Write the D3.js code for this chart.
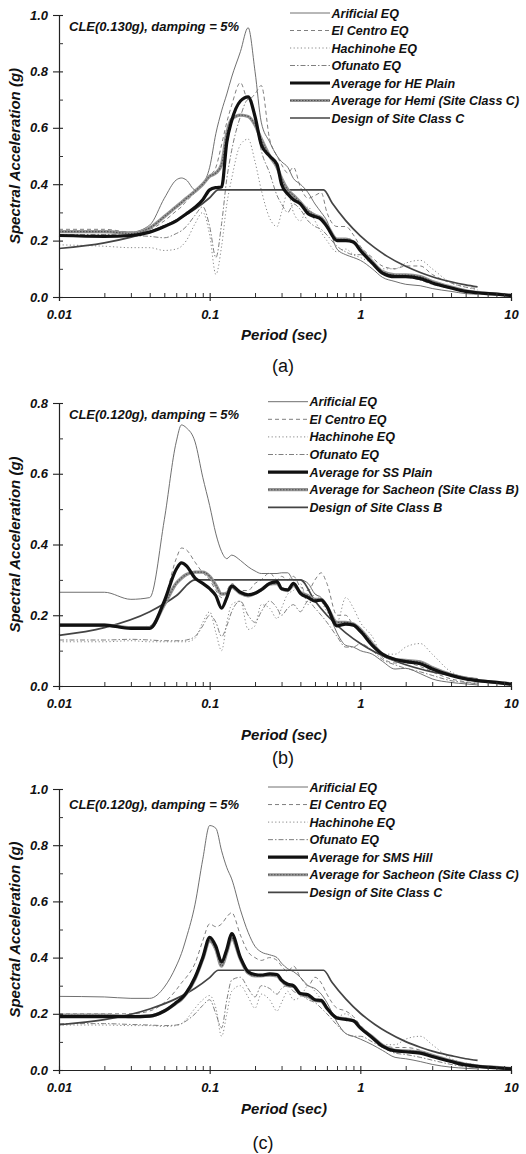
<!DOCTYPE html>
<html><head><meta charset="utf-8">
<script src="https://cdn.jsdelivr.net/npm/d3@7"></script>
<style>body{margin:0;background:#fff}</style>
</head><body><svg id="chart" width="526" height="1154"></svg>
<script>
// ---------- DATA ----------
const periods = [0.01,0.02,0.03,0.04,0.05,0.06,0.065,0.07,0.08,0.09,
  0.1,0.11,0.12,0.13,0.14,0.16,0.18,0.2,0.22,0.25,
  0.28,0.3,0.33,0.36,0.4,0.45,0.5,0.55,0.6,0.7,
  0.8,0.9,1.0,1.2,1.4,1.7,2.0,2.5,3.0,4.0,
  5.0,6.0,8.0,10.0];
const xTickValues = [0.01,0.1,1,10];
const xTickLabels = ["0.01","0.1","1","10"];

// Panel (a)
const artA = [0.235,0.235,0.230,0.255,0.350,0.415,0.422,0.415,0.380,0.400, 0.460,0.580,0.660,0.720,0.780,0.870,0.955,0.800,0.620,0.550, 0.500,0.480,0.460,0.420,0.400,0.370,0.330,0.300,0.270,0.170, 0.150,0.140,0.130,0.100,0.070,0.055,0.045,0.040,0.030,0.020, 0.012,0.010,null,null];
const elA = [0.240,0.240,0.230,0.240,0.270,0.305,0.320,0.340,0.370,0.400, 0.430,0.460,0.540,0.620,0.680,0.760,0.700,0.720,0.750,0.560, 0.500,0.470,0.440,0.460,0.390,0.350,0.360,0.370,0.300,0.250, 0.250,0.220,0.180,0.140,0.110,0.100,0.110,0.110,0.080,0.050, 0.035,0.030,null,null];
const hachA = [0.185,0.180,0.175,0.175,0.165,0.170,0.180,0.200,0.260,0.300, 0.220,0.080,0.180,0.330,0.420,0.540,0.560,0.480,0.380,0.280, 0.250,0.300,0.370,0.300,0.270,0.320,0.270,0.230,0.200,0.160, 0.170,0.150,0.140,0.120,0.100,0.100,0.120,0.130,0.100,0.050, 0.035,0.025,null,null];
const ofuA = [0.220,0.222,0.218,0.215,0.210,0.225,0.235,0.250,0.290,0.320, 0.250,0.140,0.260,0.420,0.520,0.640,0.700,0.640,0.520,0.440, 0.360,0.330,0.300,0.330,0.310,0.270,0.250,0.240,0.220,0.180, 0.160,0.150,0.150,0.120,0.090,0.070,0.070,0.060,0.045,0.030, 0.020,0.015,null,null];
const avgA = [0.218,0.215,0.218,0.230,0.250,0.270,0.283,0.295,0.318,0.345, 0.380,0.388,0.390,0.550,0.625,0.695,0.710,0.640,0.540,0.500, 0.470,0.400,0.365,0.345,0.330,0.295,0.285,0.275,0.250,0.200, 0.200,0.195,0.165,0.120,0.085,0.072,0.072,0.065,0.050,0.032, 0.020,0.015,0.010,0.005];
const siteA = [0.232,0.232,0.225,0.245,0.285,0.320,0.335,0.350,0.375,0.400, 0.428,0.440,0.470,0.580,0.630,0.645,0.640,0.610,0.560,0.500, 0.460,0.420,0.380,0.360,0.335,0.305,0.290,0.280,0.255,0.205, 0.205,0.195,0.170,0.125,0.090,0.078,0.078,0.072,0.055,0.035, 0.022,0.016,0.010,0.006];
const designA_T = [0.01,0.02,0.04,0.06,0.08,0.1,0.114,0.57,0.65,0.8,1.0,1.25,1.5,2.0,2.5,3.0,4.0,5.0,6.0];
const designA = [0.172,0.192,0.232,0.272,0.312,0.352,0.380,0.380,0.333,0.271,0.217,0.174,0.145,0.109,0.087,0.072,0.054,0.043,0.036];

// Panel (b)
const artB = [0.265,0.265,0.245,0.250,0.470,0.690,0.738,0.730,0.690,0.590, 0.510,0.430,0.380,0.360,0.370,0.355,0.337,0.325,0.318,0.318, 0.318,0.320,0.320,0.300,0.300,0.290,0.260,0.250,0.220,0.150, 0.115,0.110,0.100,0.090,0.070,0.048,0.050,0.035,0.020,0.010, 0.006,0.003,null,null];
const elB = [0.170,0.172,0.165,0.170,0.240,0.360,0.390,0.385,0.350,0.320, 0.300,0.270,0.250,0.270,0.290,0.270,0.270,0.290,0.300,0.320, 0.300,0.310,0.300,0.310,0.280,0.270,0.300,0.320,0.290,0.200, 0.200,0.170,0.150,0.120,0.080,0.065,0.065,0.055,0.040,0.020, 0.012,0.008,null,null];
const hachB = [0.125,0.125,0.128,0.125,0.125,0.125,0.125,0.125,0.135,0.180, 0.210,0.150,0.100,0.180,0.230,0.240,0.160,0.170,0.230,0.220, 0.190,0.220,0.260,0.270,0.290,0.230,0.260,0.240,0.210,0.180, 0.250,0.220,0.180,0.140,0.090,0.090,0.110,0.120,0.090,0.040, 0.025,0.018,null,null];
const ofuB = [0.130,0.130,0.132,0.130,0.128,0.128,0.128,0.130,0.140,0.170, 0.200,0.180,0.140,0.170,0.210,0.240,0.200,0.180,0.210,0.240, 0.220,0.200,0.220,0.230,0.210,0.240,0.220,0.200,0.180,0.140, 0.110,0.110,0.120,0.100,0.075,0.060,0.050,0.040,0.030,0.015, 0.010,0.006,null,null];
const avgB = [0.172,0.172,0.163,0.163,0.240,0.330,0.348,0.340,0.305,0.290, 0.275,0.255,0.220,0.250,0.283,0.265,0.258,0.262,0.272,0.290, 0.295,0.275,0.272,0.290,0.262,0.250,0.240,0.243,0.225,0.170, 0.175,0.172,0.155,0.115,0.090,0.075,0.069,0.063,0.048,0.030, 0.020,0.015,0.010,0.005];
const siteB = [0.172,0.172,0.165,0.165,0.230,0.290,0.305,0.315,0.322,0.322, 0.310,0.285,0.260,0.262,0.280,0.262,0.255,0.262,0.272,0.288, 0.290,0.275,0.270,0.285,0.265,0.255,0.245,0.245,0.225,0.180, 0.180,0.175,0.160,0.120,0.090,0.075,0.072,0.068,0.052,0.032, 0.022,0.016,0.010,0.006];
const designB_T = [0.01,0.02,0.04,0.06,0.08,0.4,0.5,0.6,0.8,1.0,1.25,1.5,2.0,2.5,3.0,4.0,5.0,6.0];
const designB = [0.143,0.165,0.210,0.255,0.300,0.300,0.240,0.200,0.150,0.120,0.096,0.080,0.060,0.048,0.040,0.030,0.024,0.020];

// Panel (c)
const artC = [0.262,0.260,0.255,0.255,0.295,0.370,0.415,0.470,0.590,0.750, 0.870,0.860,0.780,0.720,0.680,0.570,0.490,0.440,0.420,0.410, 0.400,0.380,0.360,0.350,0.330,0.300,0.290,0.270,0.240,0.170, 0.130,0.120,0.110,0.090,0.070,0.045,0.040,0.030,0.020,0.010, 0.006,0.004,null,null];
const elC = [0.200,0.200,0.200,0.210,0.240,0.285,0.310,0.330,0.380,0.460, 0.520,0.510,0.520,0.545,0.560,0.480,0.420,0.400,0.390,0.400, 0.390,0.370,0.350,0.370,0.330,0.300,0.330,0.310,0.270,0.220, 0.210,0.190,0.160,0.120,0.090,0.080,0.080,0.070,0.050,0.030, 0.018,0.012,null,null];
const hachC = [0.160,0.160,0.158,0.158,0.155,0.158,0.165,0.180,0.220,0.250, 0.265,0.220,0.120,0.200,0.280,0.300,0.260,0.220,0.270,0.250, 0.210,0.240,0.280,0.250,0.260,0.300,0.280,0.250,0.220,0.190, 0.200,0.180,0.150,0.120,0.090,0.090,0.110,0.120,0.090,0.040, 0.025,0.018,null,null];
const ofuC = [0.165,0.165,0.162,0.160,0.158,0.160,0.165,0.175,0.200,0.230, 0.250,0.200,0.150,0.250,0.320,0.330,0.290,0.260,0.300,0.290, 0.270,0.290,0.300,0.280,0.270,0.250,0.240,0.220,0.200,0.160, 0.130,0.120,0.120,0.100,0.080,0.060,0.055,0.045,0.035,0.020, 0.012,0.008,null,null];
const avgC = [0.190,0.190,0.190,0.192,0.210,0.240,0.255,0.275,0.330,0.400, 0.472,0.440,0.385,0.430,0.485,0.400,0.350,0.340,0.338,0.342, 0.340,0.320,0.305,0.300,0.272,0.268,0.250,0.248,0.220,0.185, 0.180,0.175,0.150,0.115,0.085,0.068,0.065,0.060,0.048,0.030, 0.018,0.013,0.008,0.004];
const siteC = [0.195,0.195,0.190,0.192,0.210,0.238,0.252,0.272,0.325,0.395, 0.460,0.430,0.370,0.420,0.470,0.395,0.345,0.335,0.335,0.338, 0.335,0.318,0.300,0.298,0.270,0.262,0.248,0.245,0.220,0.185, 0.182,0.175,0.150,0.118,0.088,0.070,0.068,0.064,0.052,0.032, 0.020,0.014,0.009,0.005];
const designC_T = [0.01,0.02,0.04,0.06,0.08,0.1,0.114,0.57,0.65,0.8,1.0,1.25,1.5,2.0,2.5,3.0,4.0,5.0,6.0];
const designC = [0.161,0.179,0.217,0.254,0.291,0.329,0.355,0.355,0.311,0.253,0.202,0.162,0.135,0.101,0.081,0.067,0.051,0.040,0.034];

const eqNames = ["Arificial EQ","El Centro EQ","Hachinohe EQ","Ofunato EQ"];
const namesA = ["Average for HE Plain","Average for Hemi (Site Class C)","Design of Site Class C"];
const namesB = ["Average for SS Plain","Average for Sacheon (Site Class B)","Design of Site Class B"];
const namesC = ["Average for SMS Hill","Average for Sacheon (Site Class C)","Design of Site Class C"];
const notes = ["CLE(0.130g), damping = 5%","CLE(0.120g), damping = 5%","CLE(0.120g), damping = 5%"];
const letters = ["(a)","(b)","(c)"];
const yMaxes = [1.0, 0.8, 1.0];

// ---------- LAYOUT ----------
const FONT = "'Liberation Sans', Arial, Helvetica, sans-serif";
const layout = [
  {top:15, bot:297, legX:290, legY0:13, legDy:17.5, noteY:31, periodY:340, letterX:283, letterY:372},
  {top:403, bot:686, legX:268, legY0:401.7, legDy:17.6, noteY:419, periodY:740, letterX:283, letterY:764},
  {top:789, bot:1070, legX:268, legY0:787, legDy:17.55, noteY:809, periodY:1114, letterX:263, letterY:1149}
];
const panelData = [
  {eq:[artA,elA,hachA,ofuA], avg:avgA, site:siteA, dT:designA_T, d:designA, names:namesA},
  {eq:[artB,elB,hachB,ofuB], avg:avgB, site:siteB, dT:designB_T, d:designB, names:namesB},
  {eq:[artC,elC,hachC,ofuC], avg:avgC, site:siteC, dT:designC_T, d:designC, names:namesC}
];

const eqStyles = [
  {stroke:'#606060', w:0.9, dash:null},
  {stroke:'#707070', w:0.9, dash:'4,3'},
  {stroke:'#888888', w:1.0, dash:'1.2,2.4'},
  {stroke:'#707070', w:0.9, dash:'5,2,1.5,2'}
];
const SITE_BASE = '#959595', SITE_TEX = '#505050', DESIGN = '#444444';

const svg = d3.select('#chart');
const x = d3.scaleLog().domain([0.01,10]).range([59,511]);

layout.forEach((L, i) => {
  const P = panelData[i];
  const yMax = yMaxes[i];
  const y = d3.scaleLinear().domain([0, yMax]).range([L.bot, L.top]);
  const g = svg.append('g');

  const line = d3.line().defined(d => d[1] != null)
    .x(d => x(d[0])).y(d => y(d[1])).curve(d3.curveMonotoneX);
  const zip = (ts, vs) => ts.map((t,k)=>[t, vs[k]]);

  P.eq.forEach((vals, k) => {
    const s = eqStyles[k];
    g.append('path').attr('d', line(zip(periods, vals)))
      .attr('fill','none').attr('stroke', s.stroke).attr('stroke-width', s.w)
      .attr('stroke-dasharray', s.dash);
  });
  g.append('path').attr('d', line(zip(P.dT, P.d)))
    .attr('fill','none').attr('stroke',DESIGN).attr('stroke-width',1.7);
  g.append('path').attr('d', line(zip(periods, P.site)))
    .attr('fill','none').attr('stroke',SITE_BASE).attr('stroke-width',3.4);
  g.append('path').attr('d', line(zip(periods, P.site)))
    .attr('fill','none').attr('stroke',SITE_TEX).attr('stroke-width',1.1).attr('stroke-dasharray','1.5,1.5');
  g.append('path').attr('d', line(zip(periods, P.avg)))
    .attr('fill','none').attr('stroke','#111').attr('stroke-width',3.2);

  const yMajor = d3.range(0, yMax + 0.001, 0.2);
  const yMinor = d3.range(0.1, yMax, 0.2);
  const ya = g.append('g').attr('transform','translate(59,0)')
    .call(d3.axisLeft(y).tickValues(yMajor).tickFormat(d3.format('.1f')).tickSize(6).tickPadding(5));
  ya.select('.domain').attr('stroke','#222').attr('stroke-width',1.2);
  ya.selectAll('.tick line').attr('x1',4).attr('stroke','#222').attr('stroke-width',1.1);
  ya.selectAll('.tick text').attr('font-family',FONT).attr('font-size',13)
    .attr('font-weight','bold').attr('font-style','italic').attr('fill','#111');
  const ym = g.append('g').attr('transform','translate(59,0)')
    .call(d3.axisRight(y).tickValues(yMinor).tickSize(4).tickFormat(''));
  ym.select('.domain').remove();
  ym.selectAll('.tick line').attr('stroke','#333').attr('stroke-width',1);

  const xMinor = [];
  [0.01,0.1,1].forEach(dd => { for (let m=2;m<=9;m++) xMinor.push(dd*m); });
  const xa = g.append('g').attr('transform',`translate(0,${L.bot})`)
    .call(d3.axisBottom(x).tickValues(xTickValues).tickFormat((d,k)=>xTickLabels[k]).tickSize(4).tickPadding(9));
  xa.select('.domain').attr('stroke','#222').attr('stroke-width',1.2);
  xa.selectAll('.tick line').attr('y1',-4).attr('stroke','#222').attr('stroke-width',1.1);
  xa.selectAll('.tick text').attr('font-family',FONT).attr('font-size',13)
    .attr('font-weight','bold').attr('font-style','italic').attr('fill','#111');
  const xm = g.append('g').attr('transform',`translate(0,${L.bot})`)
    .call(d3.axisTop(x).tickValues(xMinor).tickSize(4).tickFormat(''));
  xm.select('.domain').remove();
  xm.selectAll('.tick line').attr('stroke','#333').attr('stroke-width',1);

  const bi = sel => sel.attr('font-family',FONT).attr('font-weight','bold').attr('font-style','italic').attr('fill','#111');
  g.append('text').attr('transform',`translate(20,${(L.top+L.bot)/2}) rotate(-90)`)
    .attr('text-anchor','middle').attr('font-size',15).text('Spectral Acceleration (g)').call(bi);
  g.append('text').attr('x',284).attr('y',L.periodY).attr('text-anchor','middle')
    .attr('font-size',15).text('Period (sec)').call(bi);
  g.append('text').attr('x',69).attr('y',L.noteY).attr('font-size',13).text(notes[i]).call(bi);
  g.append('text').attr('x',L.letterX).attr('y',L.letterY).attr('text-anchor','middle')
    .attr('font-family',FONT).attr('font-size',18).attr('fill','#111').text(letters[i]);

  const names = eqNames.concat(P.names);
  names.forEach((nm, k) => {
    const cy = L.legY0 + k*L.legDy;
    const x0 = L.legX, x1 = L.legX + 40;
    if (k < 4) {
      const s = eqStyles[k];
      g.append('line').attr('x1',x0).attr('x2',x1).attr('y1',cy).attr('y2',cy)
        .attr('stroke',s.stroke).attr('stroke-width',s.w).attr('stroke-dasharray',s.dash);
    } else if (k === 4) {
      g.append('line').attr('x1',x0).attr('x2',x1).attr('y1',cy).attr('y2',cy)
        .attr('stroke','#111').attr('stroke-width',3.2);
    } else if (k === 5) {
      g.append('line').attr('x1',x0).attr('x2',x1).attr('y1',cy).attr('y2',cy)
        .attr('stroke',SITE_BASE).attr('stroke-width',3.2);
      g.append('line').attr('x1',x0).attr('x2',x1).attr('y1',cy).attr('y2',cy)
        .attr('stroke',SITE_TEX).attr('stroke-width',1.1).attr('stroke-dasharray','1.5,1.5');
    } else {
      g.append('line').attr('x1',x0).attr('x2',x1).attr('y1',cy).attr('y2',cy)
        .attr('stroke',DESIGN).attr('stroke-width',1.7);
    }
    g.append('text').attr('x', x1 + 1.5).attr('y', cy + 4.5).attr('font-size',12.5).text(nm).call(bi);
  });
});
</script>
</body></html>
